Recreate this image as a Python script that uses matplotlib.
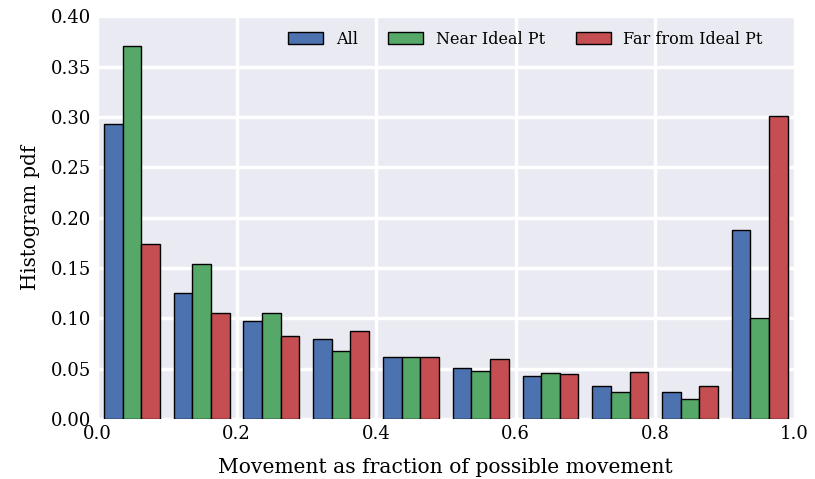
import numpy as np
import matplotlib
matplotlib.use("Agg")
import matplotlib.pyplot as plt

# bin edges and per-bin pdf values
EDGES = [0.0, 0.1, 0.2, 0.3, 0.4, 0.5, 0.6, 0.7, 0.8, 0.9, 1.0]
ALL = [0.293, 0.125, 0.097, 0.080, 0.062, 0.051, 0.043, 0.033, 0.027, 0.188]
NEAR = [0.370, 0.154, 0.105, 0.068, 0.062, 0.048, 0.046, 0.027, 0.020, 0.100]
FAR = [0.174, 0.105, 0.083, 0.088, 0.062, 0.060, 0.045, 0.047, 0.033, 0.301]
LABELS = ["All", "Near Ideal Pt", "Far from Ideal Pt"]
COLORS = ["#4C72B0", "#55A868", "#C44E52"]

plt.rcParams["font.family"] = ["DejaVu Serif"]

fig = plt.figure(figsize=(8.15, 4.79), dpi=100)
ax = fig.add_axes([0.119, 0.125, 0.856, 0.841])
ax.set_facecolor("#EAEAF2")
ax.set_axisbelow(True)
ax.grid(True, color="white", lw=2.5)
for s in ax.spines.values():
    s.set_visible(False)

centers = [(a + b) / 2 for a, b in zip(EDGES[:-1], EDGES[1:])]
ax.hist([centers] * 3, bins=EDGES, weights=[ALL, NEAR, FAR], color=COLORS,
        label=LABELS, rwidth=0.8, edgecolor="black", linewidth=1)

ax.set_xlim(0, 1)
ax.set_ylim(0, 0.40)
ax.set_xticks(np.arange(0, 1.01, 0.2))
ax.set_yticks(np.arange(0, 0.401, 0.05))
ax.set_xticklabels([f"{v:.1f}" for v in ax.get_xticks()])
ax.set_yticklabels([f"{v:.2f}" for v in ax.get_yticks()])
ax.tick_params(length=0, labelsize=13, pad=4)
ax.set_xlabel("Movement as fraction of possible movement", fontsize=14.6, labelpad=11)
ax.set_ylabel("Histogram pdf", fontsize=14.2, labelpad=8)
ax.legend(loc="upper right", ncol=3, frameon=False, fontsize=11.5,
          handlelength=2.2, handleheight=0.7, columnspacing=1.9,
          bbox_to_anchor=(0.975, 1.0))

fig.savefig("out.png", dpi=100)
